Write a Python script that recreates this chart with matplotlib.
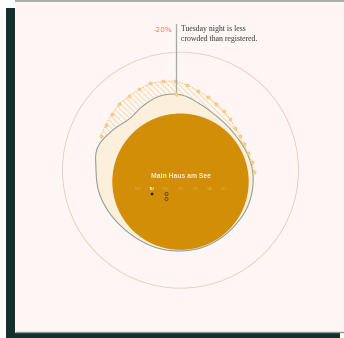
import numpy as np
import matplotlib
matplotlib.use("Agg")
import matplotlib.pyplot as plt
from matplotlib.patches import Rectangle, Circle, Polygon

# ---- data -------------------------------------------------------------
# measured crowd outline, radius every 15 degrees clockwise from north
measured = [75.5, 69.5, 65.5, 64.5, 65.5, 68.5, 72.0, 74.5, 76.5, 77.5, 79.0, 80.3,
            80.8, 81.2, 81.0, 81.5, 83.0, 84.5, 84.5, 86.0, 79.0, 72.5, 74.5, 77.0]
# registered crowd level for the evening slots
registered = [87.0, 87.5, 88.7, 90.3, 90.3, 91.0, 91.8, 90.6, 89.2, 85.2, 81.3,
              78.0, 75.5, 73.6, 71.5, 68.9, 68.4, 68.5, 69.8, 71.8, 73.6]
days = ["MO", "TU", "WE", "TH", "FR", "SA", "SU"]
selected_day = "TU"
venue = "Main Haus am See"
delta_label = "-20%"
note_lines = ["Tuesday night is less", "crowded than registered."]
highlight_slot = 8

# ---- layout -------------------------------------------------------------
W, H = 344, 338
CX, CY = 180.5, 170.2
OUTER_R = 118
SUN_C, SUN_R = (180.5, 181.7), 68.2
STEP_MEASURED = 15.0
SLOT_START, SLOT_STEP = -66.5, 7.9

BG = "#fdf6f4"
SHADOW = "#14302d"
BORDER = "#8e9a95"
RING = "#f2c6bd"
CREAM = "#fcefdb"
OUTLINE = "#8f9c92"
HATCH = "#f6cf8a"
DOT = "#fbd48c"
DOT_EDGE = "#f1bd6a"
ORANGE = "#d38e07"

plt.rcParams["hatch.linewidth"] = 0.45


def xy(theta_deg, r):
    t = np.radians(theta_deg)
    return CX + r * np.sin(t), CY - r * np.cos(t)


def smooth_radius(vals, step, thetas):
    vals = np.asarray(vals, float)
    n = len(vals)
    t = (np.asarray(thetas) % 360) / step
    i = np.floor(t).astype(int)
    u = t - i
    p0, p1 = vals[(i - 1) % n], vals[i % n]
    p2, p3 = vals[(i + 1) % n], vals[(i + 2) % n]
    return 0.5 * (2 * p1 + (-p0 + p2) * u + (2 * p0 - 5 * p1 + 4 * p2 - p3) * u ** 2
                  + (-p0 + 3 * p1 - 3 * p2 + p3) * u ** 3)


fig = plt.figure(figsize=(W / 100, H / 100), dpi=100, facecolor="white")
ax = fig.add_axes([0, 0, 1, 1])
ax.set_xlim(0, W)
ax.set_ylim(H, 0)
ax.axis("off")

# card with its dark offset shadow
ax.add_patch(Rectangle((6, 8), 334, 330, facecolor=SHADOW, edgecolor="none", zorder=0))
ax.add_patch(Rectangle((15, 0), 340, 332.6, facecolor=BG, edgecolor="none", zorder=1))
ax.plot([15, W], [0.8, 0.8], color=BORDER, lw=1.1, zorder=2, solid_capstyle="butt")
ax.plot([15, W], [332.4, 332.4], color=BORDER, lw=1.0, zorder=2, solid_capstyle="butt")

# outer reference ring
ax.add_patch(Circle((CX, CY), OUTER_R, facecolor="none", edgecolor=RING, lw=0.6, zorder=3))

# measured outline (closed, smooth)
th = np.linspace(0, 360, 721)
rb = smooth_radius(measured, STEP_MEASURED, th)
bx, by = xy(th, rb)
ax.add_patch(Polygon(np.column_stack([bx, by]), closed=True, facecolor=CREAM,
                     edgecolor="none", zorder=4))

# venue disc
ax.add_patch(Circle(SUN_C, SUN_R, facecolor=ORANGE, edgecolor="none", zorder=5))

ax.plot(bx, by, color=OUTLINE, lw=0.75, zorder=6)

# registered slots and hatched gap to the measured outline
slot_theta = SLOT_START + SLOT_STEP * np.arange(len(registered))
fine = np.linspace(slot_theta[0], slot_theta[-1], 400)
r_reg = np.interp(fine, slot_theta, registered)
r_mes = smooth_radius(measured, STEP_MEASURED, fine)
r_out = np.maximum(r_reg, r_mes)
ox, oy = xy(fine, r_out)
ix, iy = xy(fine, r_mes)
gap = np.column_stack([np.concatenate([ox, ix[::-1]]), np.concatenate([oy, iy[::-1]])])
ax.add_patch(Polygon(gap, closed=True, facecolor="none", edgecolor=HATCH, lw=0,
                     hatch="\\\\\\\\\\\\", zorder=7))

sx, sy = xy(slot_theta, np.asarray(registered))
ax.plot(sx, sy, color=DOT_EDGE, lw=0.7, ls=(0, (1.2, 1.6)), zorder=8)
ax.scatter(sx, sy, s=5, facecolor=DOT, edgecolor=DOT_EDGE, linewidth=0.4, zorder=9)

# annotation for the highlighted slot
ht = slot_theta[highlight_slot]
hr = smooth_radius(measured, STEP_MEASURED, [ht])[0]
hx, hy = xy(ht, hr)
ax.plot([hx, hx], [24, hy], color="#a3aba5", lw=0.9, zorder=10)
ax.scatter([hx], [hy], s=6, facecolor=DOT, edgecolor=DOT_EDGE, linewidth=0.4, zorder=11)

ax.text(hx - 3.5, 29.8, delta_label, ha="right", va="center", fontsize=5.2,
        color="#e5806c", family="DejaVu Sans", zorder=12)
for k, line in enumerate(note_lines):
    ax.text(hx + 5, 29.0 + 9.6 * k, line, ha="left", va="center", fontsize=5.6,
            color="#3a3a3a", family="Liberation Serif", zorder=12)

# centre labels
ax.text(180.5, 176, venue, ha="center", va="center", fontsize=4.9, weight="bold",
        color="#fbecd2", family="Liberation Sans", zorder=12)
day_x0, day_dx = 137.7, 14.4
for k, d in enumerate(days):
    sel = d == selected_day
    ax.text(day_x0 + k * day_dx, 189, d, ha="center", va="center", fontsize=3.2,
            color="#fff1da" if sel else "#e4aa4c", weight="bold" if sel else "normal",
            family="Liberation Sans", zorder=12)

# weekly markers below the day row
ax.scatter([day_x0 + day_dx], [194], s=4, facecolor="#1f2b24", edgecolor="none", zorder=12)
ax.scatter([day_x0 + 2 * day_dx] * 2, [194, 199], s=5, facecolor="none",
           edgecolor="#4a3a12", linewidth=0.5, zorder=12)

fig.savefig("out.png", dpi=100, facecolor="white")
